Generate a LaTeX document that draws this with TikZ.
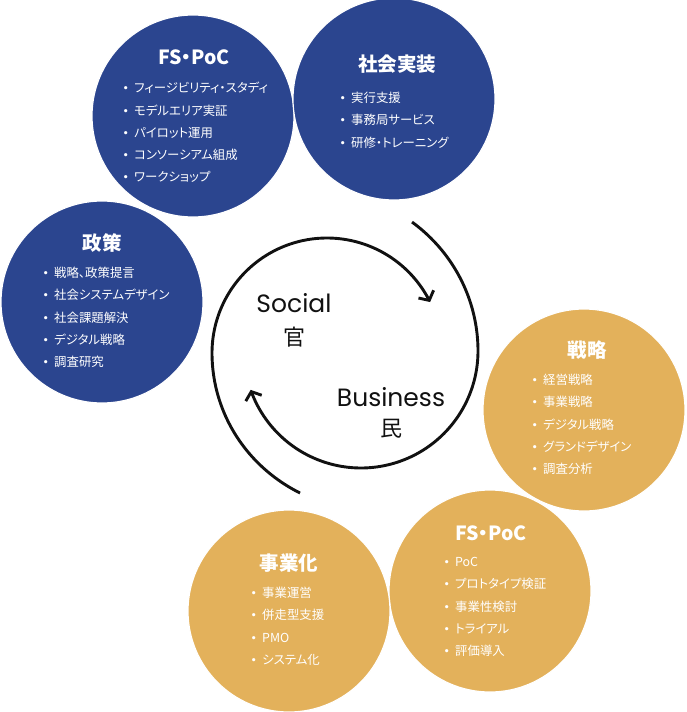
\documentclass[tikz,border=0pt]{standalone}
\usepackage{fontspec}
\setmainfont{Noto Sans CJK JP}[CharacterWidth=AlternateProportional]
\newfontfamily\latinfont{Poppins}
\newfontfamily\cjkplain{Noto Sans CJK JP}
\usetikzlibrary{arrows.meta,calc,positioning}
\definecolor{navy}{HTML}{2B458F}
\definecolor{gold}{HTML}{E3B15B}
\definecolor{ink}{HTML}{111111}
\tikzset{
  circ/.style={circle,minimum size=202pt,inner sep=0pt,draw=white,line width=1.2pt},
  bluecirc/.style={circ,fill=navy},
  goldcirc/.style={circ,fill=gold},
  circtitle/.style={text=white,font=\fontsize{19.5}{22}\selectfont\bfseries,inner sep=0pt},
  itemlist/.style={text=white,font=\fontsize{12.4}{22.3}\selectfont,align=left,inner sep=0pt,anchor=north west},
  cyclearrow/.style={line width=2.9pt,draw=ink,-{Straight Barb[length=7pt,width=17pt]}},
  cyclelbl/.style={font=\fontsize{25}{28}\selectfont\latinfont,text=ink,inner sep=0pt},
  cyclekanji/.style={font=\fontsize{22}{24}\selectfont\cjkplain,text=ink,inner sep=0pt}
}
\newcommand{\bul}{\makebox[11pt][l]{\latinfont\fontsize{13}{13}\selectfont •}}

\begin{document}
\begin{tikzpicture}[x=1pt,y=-1pt]
  \useasboundingbox (0,0) rectangle (686,712);

  % blue side (Social)
  \node[bluecirc] (fsS) at (193,116) {};
  \node[bluecirc] (impl) at (394,99) {};
  \node[bluecirc] (policy) at (102,302) {};
  \node[circtitle] (fsStitle) at ($(fsS)+(1,-59)$) {FS・PoC};
  \node[itemlist] (fsSlist) at (123,82) {\bul フィージビリティ・スタディ\\\bul モデルエリア実証\\\bul パイロット運用\\\bul コンソーシアム組成\\\bul ワークショップ};
  \node[circtitle] (impltitle) at ($(impl)+(3,-35)$) {社会実装};
  \node[itemlist] (impllist) at (340,92) {\bul 実行支援\\\bul 事務局サービス\\\bul 研修・トレーニング};
  \node[circtitle] (policytitle) at ($(policy)+(0,-59)$) {政策};
  \node[itemlist] (policylist) at (43,267) {\bul 戦略、政策提言\\\bul 社会システムデザイン\\\bul 社会課題解決\\\bul デジタル戦略\\\bul 調査研究};

  % gold side (Business)
  \node[goldcirc] (strat) at (584,410) {};
  \node[goldcirc] (fsB) at (490,591) {};
  \node[goldcirc] (biz) at (289,611) {};
  \node[circtitle] (strattitle) at ($(strat)+(3,-60)$) {戦略};
  \node[itemlist] (stratlist) at (532,374) {\bul 経営戦略\\\bul 事業戦略\\\bul デジタル戦略\\\bul グランドデザイン\\\bul 調査分析};
  \node[circtitle] (fsBtitle) at ($(fsB)+(1,-58)$) {FS・PoC};
  \node[itemlist] (fsBlist) at (444,557) {\bul PoC\\\bul プロトタイプ検証\\\bul 事業性検討\\\bul トライアル\\\bul 評価導入};
  \node[circtitle] (biztitle) at ($(biz)+(0,-48)$) {事業化};
  \node[itemlist] (bizlist) at (251,587) {\bul 事業運営\\\bul 併走型支援\\\bul PMO\\\bul システム化};

  % cycle
  \coordinate (socc) at (327,353);
  \coordinate (busc) at (361,351);
  \draw[cyclearrow,shift={(socc)}] plot[domain=100.9:333.7,samples=80,smooth,variable=\t]
    ({(115+27.6*pow(max(0,(180-\t)/79.1),2))*cos(\t)},{(115+27.6*pow(max(0,(180-\t)/79.1),2))*sin(\t)});
  \draw[cyclearrow,shift={(busc)}] plot[domain=291.6:520.6,samples=80,smooth,variable=\t]
    ({(117+21.7*pow(max(0,(360-\t)/68.4),2))*cos(\t)},{(117+21.7*pow(max(0,(360-\t)/68.4),2))*sin(\t)});
  \node[cyclelbl] (social) at (294,303) {Social};
  \node[cyclekanji,below=14pt of social] (kan) {官};
  \node[cyclelbl] (business) at (391,397) {Business};
  \node[cyclekanji,below=12pt of business] (min) {民};
\end{tikzpicture}
\end{document}
